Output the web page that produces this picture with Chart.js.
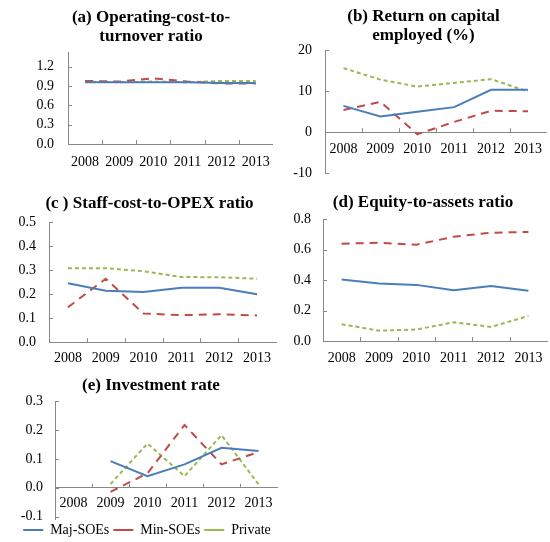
<!DOCTYPE html>
<html><head><meta charset="utf-8">
<script src="https://cdn.jsdelivr.net/npm/chart.js@4"></script>
<style>
html,body{margin:0;padding:0;background:#fff;overflow:hidden;width:550px;height:542px;position:relative;}
canvas{position:absolute;}
</style></head><body>
<canvas id="ca" style="left:0px;top:0px" width="280" height="174"></canvas>
<canvas id="cb" style="left:275px;top:0px" width="276" height="197"></canvas>
<canvas id="cc" style="left:0px;top:185px" width="280" height="188"></canvas>
<canvas id="cd" style="left:275px;top:185px" width="276" height="186"></canvas>
<canvas id="ce" style="left:0px;top:365px" width="280" height="182"></canvas>
<script>
// ---- data ----
const years = ['2008', '2009', '2010', '2011', '2012', '2013'];
const seriesNames = ['Maj-SOEs', 'Min-SOEs', 'Private'];

const opCostMaj  = [0.96, 0.96, 0.96, 0.96, 0.95, 0.95];
const opCostMin  = [0.98, 0.97, 1.02, 0.97, 0.94, 0.94];
const opCostPriv = [0.97, 0.96, 0.97, 0.96, 0.98, 0.98];

const roceMaj  = [6.4, 3.8, 5.0, 6.1, 10.3, 10.3];
const roceMin  = [5.4, 7.4, -0.5, 2.5, 5.2, 5.1];
const rocePriv = [15.6, 12.8, 11.1, 12.0, 12.9, 9.9];

const staffMaj  = [0.246, 0.215, 0.210, 0.227, 0.227, 0.200];
const staffMin  = [0.146, 0.265, 0.120, 0.113, 0.117, 0.112];
const staffPriv = [0.309, 0.309, 0.296, 0.272, 0.271, 0.265];

const equityMaj  = [0.403, 0.377, 0.368, 0.333, 0.360, 0.329];
const equityMin  = [0.638, 0.644, 0.631, 0.684, 0.710, 0.715];
const equityPriv = [0.110, 0.068, 0.075, 0.123, 0.092, 0.164];

const investMaj  = [null, 0.092, 0.040, 0.081, 0.138, 0.127];
const investMin  = [null, -0.014, 0.050, 0.217, 0.081, 0.123];
const investPriv = [null, 0.013, 0.153, 0.040, 0.182, 0.012];

const ticksA = [0, 0.3, 0.6, 0.9, 1.2];
const ticksB = [-10, 0, 10, 20];
const ticksC = [0, 0.1, 0.2, 0.3, 0.4, 0.5];
const ticksD = [0, 0.2, 0.4, 0.6, 0.8];
const ticksE = [-0.1, 0, 0.1, 0.2, 0.3];

const titleA = ['(a) Operating-cost-to-', 'turnover ratio'];
const titleB = ['(b) Return on capital', 'employed (%)'];
const titleC = ['(c ) Staff-cost-to-OPEX ratio'];
const titleD = ['(d) Equity-to-assets ratio'];
const titleE = ['(e) Investment rate'];

// ---- styling ----
const FONT = "'Liberation Serif', 'Times New Roman', serif";
const COLORS = ['#4A7EBB', '#BE4B48', '#98B954'];
const DASHES = [[], [8, 6], [4, 3]];
const AXIS = '#888888';

const innerTicks = {
  id: 'innerTicks',
  afterDraw(chart) {
    const {ctx, chartArea, scales: {x, y}} = chart;
    const atZero = typeof x.options.position === 'object';
    const lineY = atZero ? y.getPixelForValue(0) : chartArea.bottom;
    ctx.save();
    ctx.strokeStyle = AXIS;
    ctx.lineWidth = 1;
    ctx.beginPath();
    for (let i = 1; i < years.length; i++) {
      const px = Math.round((x.getPixelForValue(i - 1) + x.getPixelForValue(i)) / 2) + 0.5;
      ctx.moveTo(px, lineY);
      ctx.lineTo(px, lineY - 4);
    }
    y.ticks.forEach(t => {
      const py = Math.round(y.getPixelForValue(t.value)) + 0.5;
      ctx.moveTo(chartArea.left, py);
      ctx.lineTo(chartArea.left + 4, py);
    });
    ctx.stroke();
    ctx.restore();
  }
};

const panelTitle = {
  id: 'panelTitle',
  afterDraw(chart, args, opts) {
    const ctx = chart.ctx;
    ctx.save();
    ctx.fillStyle = '#000';
    ctx.font = 'bold 17px ' + FONT;
    ctx.textAlign = 'center';
    ctx.textBaseline = 'middle';
    opts.lines.forEach((t, i) => ctx.fillText(t, opts.x, opts.y + i * 18.7));
    ctx.restore();
  }
};

function panel(id, o) {
  const datasets = o.data.map((d, i) => ({
    label: seriesNames[i],
    data: d,
    borderColor: COLORS[i],
    backgroundColor: COLORS[i],
    borderWidth: 2,
    borderDash: DASHES[i],
    pointRadius: 0,
    tension: 0,
    fill: false
  }));
  new Chart(document.getElementById(id), {
    type: 'line',
    data: {labels: years, datasets},
    plugins: [innerTicks, panelTitle],
    options: {
      responsive: false,
      animation: false,
      events: [],
      layout: {padding: {left: o.padL, right: o.padR, top: o.top, bottom: o.padB}},
      plugins: {
        tooltip: {enabled: false},
        title: {display: false},
        panelTitle: {lines: o.title, x: o.tx, y: o.ty},
        legend: o.legend ? {
          display: true, position: 'bottom',
          labels: {
            usePointStyle: true, pointStyle: 'line', pointStyleWidth: 20, boxWidth: 20,
            padding: 4, color: '#000', font: {family: FONT, size: 14}
          }
        } : {display: false}
      },
      scales: {
        x: {
          type: 'category', offset: true,
          position: o.xAtZero ? {y: 0} : 'bottom',
          grid: {display: false, drawTicks: false},
          border: {display: true, color: AXIS, width: 1},
          ticks: {color: '#000', padding: o.xPad, maxRotation: 0, autoSkip: false, font: {family: FONT, size: 14}},
          afterFit: s => { if (!o.xAtZero) s.height = o.xH; }
        },
        y: {
          min: o.min, max: o.max,
          grid: {display: false, drawTicks: false},
          border: {display: true, color: AXIS, width: 1},
          afterBuildTicks: s => { s.ticks = o.ticks.map(v => ({value: v})); },
          afterFit: s => { s.width = o.yW; },
          ticks: {
            color: '#000', padding: o.yPad, font: {family: FONT, size: 14},
            callback: v => Number(v).toFixed(o.dec)
          }
        }
      }
    }
  });
}

panel('ca', {title: titleA, tx: 151, ty: 17.5, data: [opCostMaj, opCostMin, opCostPriv], ticks: ticksA, min: 0, max: 1.43, dec: 1,
  padL: 0, padR: 3, top: 52, padB: 0, yW: 68, yPad: 14, xH: 30, xPad: 10});
panel('cb', {title: titleB, tx: 148.5, ty: 16.7, data: [roceMaj, roceMin, rocePriv], ticks: ticksB, min: -10, max: 20, dec: 0,
  padL: 0, padR: 0, top: 50, padB: 23.7, yW: 50, yPad: 13, xAtZero: true, xPad: 9});
panel('cc', {title: titleC, tx: 149.5, ty: 19, data: [staffMaj, staffMin, staffPriv], ticks: ticksC, min: 0, max: 0.5, dec: 1,
  padL: 0, padR: 4, top: 37.3, padB: 0, yW: 49, yPad: 13, xH: 30.7, xPad: 8});
panel('cd', {title: titleD, tx: 148, ty: 18, data: [equityMaj, equityMin, equityPriv], ticks: ticksD, min: 0, max: 0.8, dec: 1,
  padL: 0, padR: 0, top: 34, padB: 0, yW: 48, yPad: 12, xH: 30, xPad: 8.6});
panel('ce', {title: titleE, tx: 151, ty: 21, data: [investMaj, investMin, investPriv], ticks: ticksE, min: -0.108, max: 0.3, dec: 1,
  padL: 17, padR: 3, top: 36, padB: 0, yW: 38, yPad: 12, xAtZero: true, xPad: 7, legend: true});
</script>
</body></html>
